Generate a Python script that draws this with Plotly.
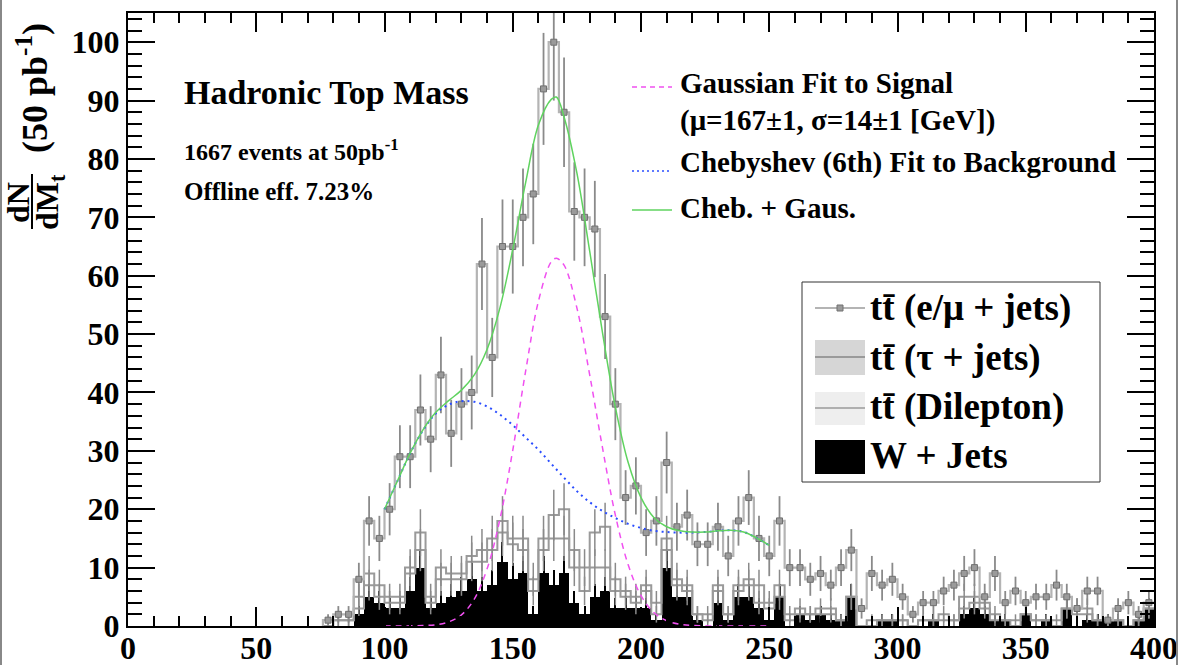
import numpy as np
import plotly.graph_objects as go

# ---------------- data ----------------
# 4 GeV bins, first non-empty bin is 76-80 GeV, last is 396-400 GeV
bin_lo_edge = 76
bin_width = 4

emu_jets = [1, 2, 2, 8, 18, 15, 20, 29, 29, 37, 32, 43, 33, 38, 40, 62, 46, 65, 65, 70,
            74, 92, 100, 88, 71, 70, 68, 53, 38, 22, 24, 16, 18, 28, 17, 19, 14, 14, 17, 12,
            18, 22, 15, 12, 18, 10, 10, 8, 9, 7, 10, 13, 3, 9, 7, 8, 5, 2, 4, 4,
            6, 7, 9, 10, 5, 9, 4, 6, 4, 5, 5, 7, 5, 3, 6, 6, 1, 3, 4, 2, 4]

w_jets = [0, 0, 0, 2, 5, 4, 3, 3, 6, 10, 3, 4, 5, 6, 8, 6, 7, 11, 8, 9,
          2, 9, 7, 9, 4, 2, 5, 6, 3, 3, 3, 3, 1, 10, 5, 5, 1, 0, 4, 1,
          5, 5, 3, 1, 5, 0, 2, 1, 2, 1, 1, 5, 0, 0, 1, 1, 0, 0, 0, 1,
          0, 0, 2, 3, 2, 1, 1, 0, 2, 0, 1, 0, 3, 0, 1, 1, 1, 1, 0, 1, 3]

# stacked levels of the two grey outline histograms
dilepton_level = [0, 1, 1, 3, 7, 5, 4, 4, 9, 13, 4, 8, 8, 8, 11, 11, 13, 16, 14, 13,
                  6, 13, 15, 15, 10, 6, 10, 10, 6, 5, 4, 6, 2, 13, 7, 6, 2, 1, 6, 2,
                  6, 7, 4, 3, 5, 1, 2, 2, 2, 2, 1, 5, 0, 0, 1, 1, 1, 0, 1, 1,
                  1, 1, 3, 4, 3, 1, 1, 0, 2, 1, 1, 0, 3, 2, 2, 1, 1, 1, 0, 1, 3]
tau_level = [0, 1, 1, 5, 9, 7, 5, 5, 10, 16, 5, 10, 9, 9, 12, 13, 15, 18, 15, 15,
             8, 15, 19, 20, 13, 10, 16, 17, 8, 6, 5, 7, 4, 15, 8, 7, 2, 2, 7, 2,
             7, 8, 7, 4, 7, 2, 3, 2, 3, 3, 1, 5, 0, 1, 1, 1, 1, 0, 1, 1,
             2, 1, 5, 5, 4, 2, 1, 1, 2, 1, 1, 1, 3, 3, 3, 1, 1, 1, 0, 1, 3]

# fitted curves
gauss_x = [100, 105, 110, 115, 120, 125, 130, 135, 140, 145, 150, 155, 160, 165, 167, 170,
           175, 180, 185, 190, 195, 200, 205, 210, 215, 220, 230, 240, 250]
gauss_y = [0.0, 0.0, 0.02, 0.07, 0.22, 0.7, 1.9, 4.6, 9.8, 18.3, 30.1, 43.6, 55.6, 62.4, 63.0, 61.8,
           54.5, 43.0, 30.5, 19.0, 10.5, 5.2, 2.3, 0.9, 0.3, 0.1, 0.0, 0.0, 0.0]

bkg_x = [100, 105, 110, 115, 120, 125, 130, 135, 140, 145, 150, 155, 160, 165, 170, 175,
         180, 185, 190, 195, 200, 205, 210, 215, 220, 225, 230, 235, 240, 245, 250]
cheb_y = [20.0, 24.8, 29.6, 33.5, 36.4, 37.9, 38.5, 38.4, 37.6, 36.2, 34.4, 32.3, 30.2, 27.8, 25.4, 23.1,
          21.2, 19.7, 18.5, 17.5, 16.8, 16.3, 16.1, 16.0, 16.0, 16.1, 16.3, 16.4, 16.1, 15.1, 13.8]

sum_x = [100, 105, 110, 115, 120, 125, 130, 135, 140, 145, 150, 155, 160, 165, 167, 170,
         175, 180, 185, 190, 195, 200, 205, 210, 215, 220, 225, 230, 235, 240, 245, 250]
sum_y = [20.0, 24.8, 29.6, 33.6, 36.6, 38.6, 40.4, 43.0, 47.4, 54.5, 64.5, 75.9, 85.8, 90.2, 90.6, 87.2,
         77.6, 64.2, 50.2, 37.5, 28.0, 22.0, 18.6, 17.0, 16.3, 16.1, 16.1, 16.3, 16.4, 16.1, 15.1, 13.8]

x_ticks = [0, 50, 100, 150, 200, 250, 300, 350, 400]
y_ticks = [0, 10, 20, 30, 40, 50, 60, 70, 80, 90, 100]

# ---------------- helpers ----------------
n = len(emu_jets)
centers = bin_lo_edge + bin_width / 2 + bin_width * np.arange(n)
edges = bin_lo_edge + bin_width * np.arange(n + 1)


def step(vals):
    xs = np.concatenate([[edges[0]], edges])
    ys = np.concatenate([[0], vals, [vals[-1]]])
    return xs, ys


SERIF = "Liberation Serif"
L, R, T, B = 128, 25, 13, 39
W_PX, H_PX = 1179, 665
PW, PH = W_PX - L - R, H_PX - T - B


def px(X):
    return (X - L) / PW


def py(Y):
    return (H_PX - B - Y) / PH


fig = go.Figure()

# W + jets, filled black
fig.add_trace(go.Bar(x=centers, y=w_jets, width=bin_width, marker=dict(color="black", line=dict(width=0)),
                     error_y=dict(type="data", array=np.sqrt(w_jets), color="black", thickness=2, width=0)))

# grey outline histograms (dilepton and tau levels)
for lev in (dilepton_level, tau_level):
    xs, ys = step(np.array(lev, float))
    fig.add_trace(go.Scatter(x=xs, y=ys, mode="lines", line=dict(color="#9a9a9a", width=2, shape="hv"),
                             hoverinfo="skip"))
    fig.add_trace(go.Scatter(x=centers, y=lev, mode="markers", marker=dict(size=1, color="rgba(0,0,0,0)"),
                             error_y=dict(type="data", array=np.sqrt(lev), color="#8a8a8a", thickness=1.5, width=0)))

# e/mu + jets histogram with points
xs, ys = step(np.array(emu_jets, float))
fig.add_trace(go.Scatter(x=xs, y=ys, mode="lines", line=dict(color="#b4b4b4", width=2.2, shape="hv")))
fig.add_trace(go.Scatter(x=centers, y=emu_jets, mode="markers", cliponaxis=False,
                         marker=dict(symbol="square", size=6, color="#9a9a9a", line=dict(color="#707070", width=1)),
                         error_y=dict(type="data", array=np.sqrt(emu_jets), color="#8a8a8a", thickness=1.8, width=0)))

# fits
fig.add_trace(go.Scatter(x=gauss_x, y=gauss_y, mode="lines",
                         line=dict(color="#f050f0", width=1.5, dash="6px,5px", shape="spline")))
fig.add_trace(go.Scatter(x=bkg_x, y=cheb_y, mode="lines",
                         line=dict(color="#2a4dff", width=2, dash="2px,4px", shape="spline")))
fig.add_trace(go.Scatter(x=sum_x, y=sum_y, mode="lines",
                         line=dict(color="#5fd35f", width=1.5, shape="spline")))

axis_font = dict(family=SERIF, size=32, color="black", weight="bold")
fig.update_xaxes(range=[0, 400], tickvals=x_ticks, ticktext=[str(v) for v in x_ticks], automargin=False,
                 ticks="inside", ticklen=19, tickwidth=1.5, tickcolor="black", ticklabelstandoff=-7,
                 minor=dict(dtick=10, tick0=0, ticks="inside", ticklen=10, tickwidth=1.5, tickcolor="black"),
                 showline=True, linecolor="black", linewidth=2, mirror="allticks",
                 showgrid=False, zeroline=False, tickfont=axis_font)
fig.update_yaxes(range=[0, 105], tickvals=y_ticks, ticktext=[str(v) for v in y_ticks], automargin=False,
                 ticks="inside", ticklen=27, tickwidth=1.5, tickcolor="black",
                 minor=dict(dtick=2, tick0=0, ticks="inside", ticklen=14, tickwidth=1.5, tickcolor="black"),
                 showline=True, linecolor="black", linewidth=2, mirror="allticks",
                 showgrid=False, zeroline=False, tickfont=axis_font)

ann = []
shapes = []


def text(X, Y, s, size, anchor="left", angle=0):
    ann.append(dict(xref="paper", yref="paper", x=px(X), y=py(Y), text=s, showarrow=False,
                    xanchor=anchor, yanchor="middle", textangle=angle,
                    font=dict(family=SERIF, size=size, color="black", weight="bold")))


# y-axis title: fraction dN/dM_t and (50 pb^-1)
text(18, 203, "dN", 32, anchor="center", angle=-90)
text(49, 202, "dM<sub>t</sub>", 32, anchor="center", angle=-90)
shapes.append(dict(type="line", xref="paper", yref="paper", x0=px(32), x1=px(32), y0=py(174), y1=py(229),
                   line=dict(color="black", width=2)))
text(33, 88, "(50 pb<sup>-1</sup>)", 36, anchor="center", angle=-90)

# in-plot labels
text(182, 92, "Hadronic Top Mass", 34)
text(182, 150, "1667 events at 50pb<sup>-1</sup>", 24)
text(182, 192, "Offline eff. 7.23%", 25)

# fit legend
text(678, 83, "Gaussian Fit to Signal", 29)
text(678, 121, "(μ=167±1, σ=14±1 [GeV])", 29)
text(678, 162, "Chebyshev (6th) Fit to Background", 29)
text(678, 208, "Cheb. + Gaus.", 29)
shapes.append(dict(type="line", xref="paper", yref="paper", x0=px(632), x1=px(672), y0=py(87), y1=py(87),
                   line=dict(color="#f050f0", width=1.5, dash="5px,4px")))
shapes.append(dict(type="line", xref="paper", yref="paper", x0=px(632), x1=px(672), y0=py(171), y1=py(171),
                   line=dict(color="#2a4dff", width=1.5, dash="2px,3px")))
shapes.append(dict(type="line", xref="paper", yref="paper", x0=px(632), x1=px(672), y0=py(210), y1=py(210),
                   line=dict(color="#5fd35f", width=1.5)))

# sample legend box
shapes.append(dict(type="rect", xref="paper", yref="paper", x0=px(802), x1=px(1100), y0=py(282), y1=py(482),
                   line=dict(color="#333333", width=1), fillcolor="white", layer="above"))
shapes.append(dict(type="line", xref="paper", yref="paper", x0=px(815), x1=px(865), y0=py(308), y1=py(308),
                   line=dict(color="#b4b4b4", width=2), layer="above"))
shapes.append(dict(type="rect", xref="paper", yref="paper", x0=px(837), x1=px(843), y0=py(305), y1=py(311),
                   line=dict(color="#707070", width=1), fillcolor="#9a9a9a", layer="above"))
shapes.append(dict(type="rect", xref="paper", yref="paper", x0=px(815), x1=px(865), y0=py(340), y1=py(375),
                   line=dict(width=0), fillcolor="#d6d6d6", layer="above"))
shapes.append(dict(type="line", xref="paper", yref="paper", x0=px(815), x1=px(865), y0=py(357), y1=py(357),
                   line=dict(color="#9a9a9a", width=2), layer="above"))
shapes.append(dict(type="rect", xref="paper", yref="paper", x0=px(815), x1=px(865), y0=py(392), y1=py(425),
                   line=dict(width=0), fillcolor="#eeeeee", layer="above"))
shapes.append(dict(type="line", xref="paper", yref="paper", x0=px(815), x1=px(865), y0=py(408), y1=py(408),
                   line=dict(color="#9a9a9a", width=1.5), layer="above"))
shapes.append(dict(type="rect", xref="paper", yref="paper", x0=px(815), x1=px(865), y0=py(440), y1=py(474),
                   line=dict(width=0), fillcolor="black", layer="above"))
text(868, 308, "tt\u0304 (e/μ + jets)", 37)
text(868, 358, "tt\u0304 (τ + jets)", 37)
text(868, 407, "tt\u0304 (Dilepton)", 37)
text(868, 455, "W + Jets", 37)

# canvas border lines
shapes.append(dict(type="line", xref="paper", yref="paper", x0=px(1), x1=px(1), y0=py(0), y1=py(665),
                   line=dict(color="#888888", width=2)))
shapes.append(dict(type="line", xref="paper", yref="paper", x0=px(1177), x1=px(1177), y0=py(0), y1=py(665),
                   line=dict(color="#888888", width=2)))

fig.update_layout(width=W_PX, height=H_PX, margin=dict(l=L, r=R, t=T, b=B, autoexpand=False),
                  paper_bgcolor="white", plot_bgcolor="white", showlegend=False,
                  bargap=0, barmode="overlay", annotations=ann, shapes=shapes)

fig.write_html("out.html")
